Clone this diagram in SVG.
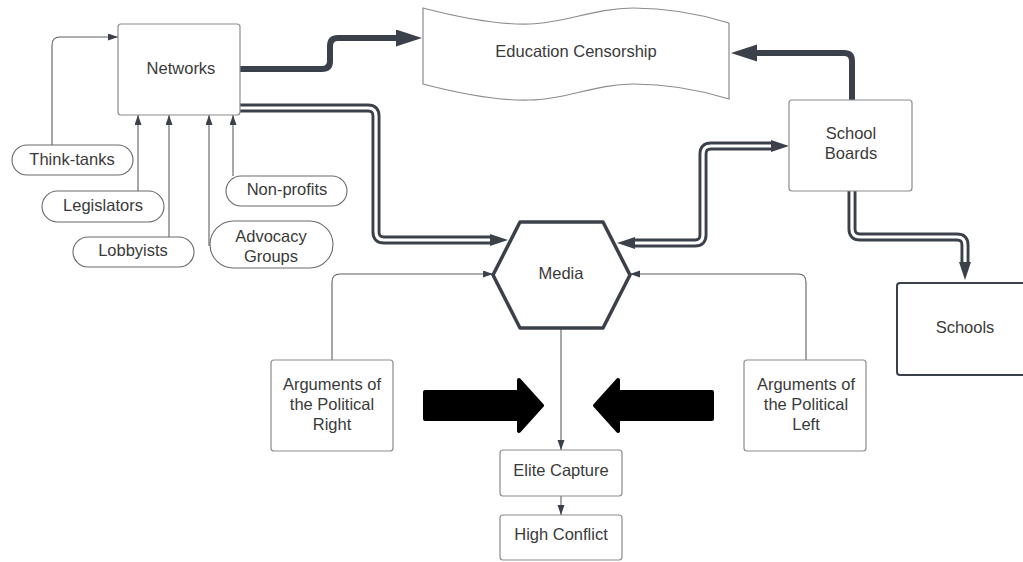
<svg xmlns="http://www.w3.org/2000/svg" width="1023" height="562" viewBox="0 0 1023 562">
  <style>
    text { font-family: "Liberation Sans", Arial, sans-serif; font-size: 16.5px; fill: #3a3a3a; text-anchor: middle; }
    .box { fill: #ffffff; stroke: #8c8c8c; stroke-width: 1.2; }
    .pill { fill: #ffffff; stroke: #6a6a6a; stroke-width: 1.1; }
    .thin { fill: none; stroke: #5a5f66; stroke-width: 1.1; }
    .thick { fill: none; stroke: #3a414a; stroke-width: 6; stroke-linejoin: round; }
    .dbl-out { fill: none; stroke: #3a414a; stroke-width: 9; }
    .dbl-in { fill: none; stroke: #ffffff; stroke-width: 3.2; }
    .bigarrow { fill: #000000; stroke: #000000; stroke-width: 4; stroke-linejoin: round; }
  </style>
  <defs>
    <marker id="thinHead" markerUnits="userSpaceOnUse" markerWidth="11" markerHeight="8" refX="10" refY="3.5" orient="auto">
      <path d="M0,0 L10,3.5 L0,7 z" fill="#3a414a"/>
    </marker>
    <marker id="thickHead" markerUnits="userSpaceOnUse" markerWidth="28" markerHeight="18" refX="0" refY="8.5" orient="auto">
      <path d="M0,0 L26,8.5 L0,17 z" fill="#3a414a"/>
    </marker>
    <marker id="dblHead" markerUnits="userSpaceOnUse" markerWidth="19" markerHeight="13" refX="0" refY="6" orient="auto">
      <path d="M0,0 L18,6 L0,12 z" fill="#3a414a"/>
    </marker>
    <marker id="dblHeadStart" markerUnits="userSpaceOnUse" markerWidth="19" markerHeight="13" refX="0" refY="6" orient="auto-start-reverse">
      <path d="M0,0 L18,6 L0,12 z" fill="#3a414a"/>
    </marker>
  </defs>

  <rect width="1023" height="562" fill="#ffffff"/>

  <g id="connectors">
    <!-- feeders into Networks -->
    <path class="thin" d="M52,146 V45 Q52,37 60,37 H118" marker-end="url(#thinHead)"/>
    <path class="thin" d="M138,191 V115" marker-end="url(#thinHead)"/>
    <path class="thin" d="M169,237 V115" marker-end="url(#thinHead)"/>
    <path class="thin" d="M209,246 V115" marker-end="url(#thinHead)"/>
    <path class="thin" d="M233,176 V115" marker-end="url(#thinHead)"/>

    <!-- heavy arrows into Education Censorship -->
    <path class="thick" d="M240,69 H322 Q330,69 330,61 V46 Q330,38 338,38 H396" marker-end="url(#thickHead)"/>
    <path class="thick" d="M852,100 V61 Q852,53 844,53 H757" marker-end="url(#thickHead)"/>

    <!-- double-line links -->
    <path class="dbl-out" d="M240,108 H368 Q376,108 376,116 V232 Q376,240 384,240 H490" marker-end="url(#dblHead)"/>
    <path class="dbl-in" d="M240,108 H368 Q376,108 376,116 V232 Q376,240 384,240 H490"/>

    <path class="dbl-out" d="M635,243 H695 Q703,243 703,235 V154 Q703,146 711,146 H771" marker-start="url(#dblHeadStart)" marker-end="url(#dblHead)"/>
    <path class="dbl-in" d="M635,243 H695 Q703,243 703,235 V154 Q703,146 711,146 H771"/>

    <path class="dbl-out" d="M852,191 V229 Q852,237 860,237 H957 Q965,237 965,245 V262" marker-end="url(#dblHead)"/>
    <path class="dbl-in" d="M852,191 V229 Q852,237 860,237 H957 Q965,237 965,245 V262"/>

    <!-- arguments into Media -->
    <path class="thin" d="M332,360 V282 Q332,274 340,274 H493" marker-end="url(#thinHead)"/>
    <path class="thin" d="M806,360 V282 Q806,274 798,274 H630" marker-end="url(#thinHead)"/>

    <!-- Media down to outcomes -->
    <path class="thin" d="M561,328 V450" marker-end="url(#thinHead)"/>
    <path class="thin" d="M561,496 V515" marker-end="url(#thinHead)"/>
  </g>

  <g id="networks">
    <rect class="box" x="118" y="24" width="122" height="91" rx="3"/>
    <text x="181" y="74">Networks</text>
  </g>

  <g id="think-tanks">
    <rect class="pill" x="12" y="145" width="121" height="30" rx="15"/>
    <text x="72" y="165">Think-tanks</text>
  </g>
  <g id="legislators">
    <rect class="pill" x="42" y="191" width="122" height="31" rx="15.5"/>
    <text x="103" y="211">Legislators</text>
  </g>
  <g id="lobbyists">
    <rect class="pill" x="73" y="237" width="121" height="30" rx="15"/>
    <text x="133" y="256">Lobbyists</text>
  </g>
  <g id="non-profits">
    <rect class="pill" x="226" y="176" width="121" height="30" rx="15"/>
    <text x="287" y="195">Non-profits</text>
  </g>
  <g id="advocacy-groups">
    <rect class="pill" x="210" y="221" width="123" height="47" rx="23.5"/>
    <text x="271" y="242">Advocacy</text>
    <text x="271" y="262">Groups</text>
  </g>

  <g id="education-censorship">
    <path fill="#ffffff" stroke="#8c8c8c" stroke-width="1.2" d="M423,8 C465,19 500,25 530,24 C565,23 595,8 633,8 C670,8 700,14 729,23 V99 C700,90 670,84 633,84 C595,84 565,100 530,100 C500,101 465,95 423,84 Z"/>
    <text x="576" y="57">Education Censorship</text>
  </g>

  <g id="school-boards">
    <rect class="box" x="789" y="100" width="123" height="91" rx="3"/>
    <text x="851" y="139">School</text>
    <text x="851" y="159">Boards</text>
  </g>

  <g id="schools">
    <rect x="897" y="283" width="140" height="92" rx="3" fill="#ffffff" stroke="#3a414a" stroke-width="2"/>
    <text x="965" y="333">Schools</text>
  </g>

  <g id="media">
    <path d="M520,222 H603 L630,275 L603,328 H520 L493,275 Z" fill="#ffffff" stroke="#3a414a" stroke-width="3.5" stroke-linejoin="round"/>
    <text x="561" y="279">Media</text>
  </g>

  <g id="arguments-right">
    <rect class="box" x="271" y="360" width="122" height="91" rx="3"/>
    <text x="332" y="390">Arguments of</text>
    <text x="332" y="410">the Political</text>
    <text x="332" y="430">Right</text>
  </g>

  <g id="arguments-left">
    <rect class="box" x="744" y="360" width="122" height="91" rx="3"/>
    <text x="806" y="390">Arguments of</text>
    <text x="806" y="410">the Political</text>
    <text x="806" y="430">Left</text>
  </g>

  <g id="push-right">
    <path class="bigarrow" d="M425,392 H519 V380 L542,405.5 L519,431 V419 H425 Z"/>
  </g>
  <g id="push-left">
    <path class="bigarrow" d="M712,392 H618 V380 L595,405.5 L618,431 V419 H712 Z"/>
  </g>

  <g id="elite-capture">
    <rect class="box" x="500" y="450" width="122" height="46" rx="3"/>
    <text x="561" y="476">Elite Capture</text>
  </g>

  <g id="high-conflict">
    <rect class="box" x="500" y="515" width="122" height="45" rx="3"/>
    <text x="561" y="540">High Conflict</text>
  </g>
</svg>
